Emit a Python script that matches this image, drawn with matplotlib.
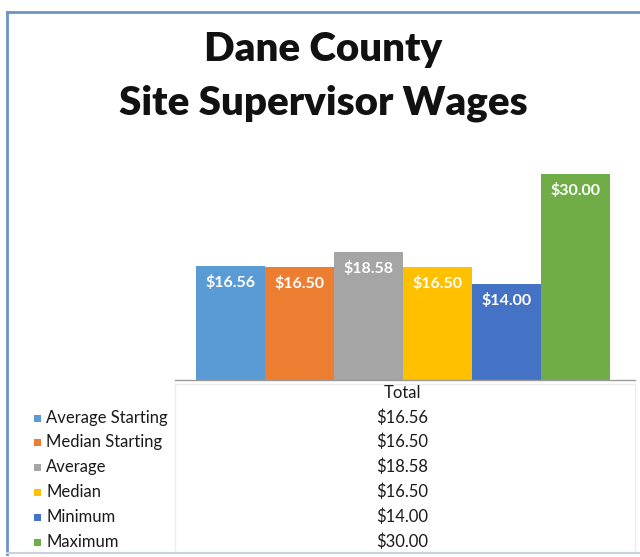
import matplotlib
matplotlib.use("Agg")
import matplotlib.pyplot as plt
from matplotlib.lines import Line2D
from matplotlib.patches import Rectangle

categories = ["Average Starting", "Median Starting", "Average", "Median", "Minimum", "Maximum"]
values = [16.56, 16.50, 18.58, 16.50, 14.00, 30.00]
labels = ["$16.56", "$16.50", "$18.58", "$16.50", "$14.00", "$30.00"]
colors = ["#5B9BD5", "#ED7D31", "#A5A5A5", "#FFC000", "#4472C4", "#70AD47"]
title_lines = ["Dane County", "Site Supervisor Wages"]
table_header = "Total"

W, H = 640, 557
fig = plt.figure(figsize=(W / 100, H / 100), dpi=100)
fig.patch.set_facecolor("white")

def fx(px):
    return px / W

def fy(py):
    return 1 - py / H

ax = fig.add_axes([fx(175), fy(380), fx(635) - fx(175), fy(160) - fy(380)])
xs = list(range(len(values)))
ax.bar(xs, values, width=1.0, color=colors, edgecolor="none")
ax.set_xlim(-0.804, 5.862)
ax.set_ylim(0, 32)
for s in ["top", "right", "left"]:
    ax.spines[s].set_visible(False)
ax.spines["bottom"].set_color("#9a9a9a")
ax.spines["bottom"].set_linewidth(1.0)
ax.set_xticks([])
ax.set_yticks([])
ax.patch.set_alpha(0)

for x, v, lab in zip(xs, values, labels):
    ax.annotate(lab, (x, v), xytext=(0, -12), textcoords="offset points",
                ha="center", va="center", color="white", fontsize=11.5,
                fontweight="bold", family="Lato")

title_cx = 0.5 * (fx(7) + 1)
for ty, line in zip([50, 103], title_lines):
    fig.text(title_cx, fy(ty), line, ha="center", va="center",
             fontsize=29, fontweight="heavy", family="Lato", color="#111111")

# data table
text_col = "#1a1a1a"
fig.text(fx(403), fy(393), table_header, ha="center", va="center",
         fontsize=12, family="Lato", color=text_col)
row_y = [418, 442, 467, 492, 517, 542]
for ry, cat, lab, c in zip(row_y, categories, labels, colors):
    fig.patches.append(Rectangle((fx(34), fy(ry + 3.5)), fx(7), 7 / H,
                                 transform=fig.transFigure, facecolor=c,
                                 edgecolor="none"))
    fig.text(fx(46), fy(ry), cat, ha="left", va="center", fontsize=12,
             family="Lato", color=text_col)
    fig.text(fx(402), fy(ry), lab, ha="center", va="center", fontsize=12,
             family="Lato", color=text_col)

# faint table lines
faint = "#ececec"
fig.lines.append(Line2D([fx(175), fx(635)], [fy(384), fy(384)], color=faint, lw=1, transform=fig.transFigure))
fig.lines.append(Line2D([fx(175), fx(175)], [fy(384), fy(552)], color=faint, lw=1, transform=fig.transFigure))
fig.lines.append(Line2D([fx(635), fx(635)], [fy(384), fy(552)], color=faint, lw=1, transform=fig.transFigure))

# outer border
border = "#6f93c4"
fig.lines.append(Line2D([fx(7), fx(7)], [fy(12), fy(554)], color=border, lw=2, transform=fig.transFigure))
fig.lines.append(Line2D([fx(7), fx(640)], [fy(12), fy(12)], color=border, lw=2, transform=fig.transFigure))
fig.lines.append(Line2D([fx(7), fx(640)], [fy(553), fy(553)], color="#c8d3e2", lw=1.5, transform=fig.transFigure))

fig.savefig("out.png", dpi=100, facecolor="white")
